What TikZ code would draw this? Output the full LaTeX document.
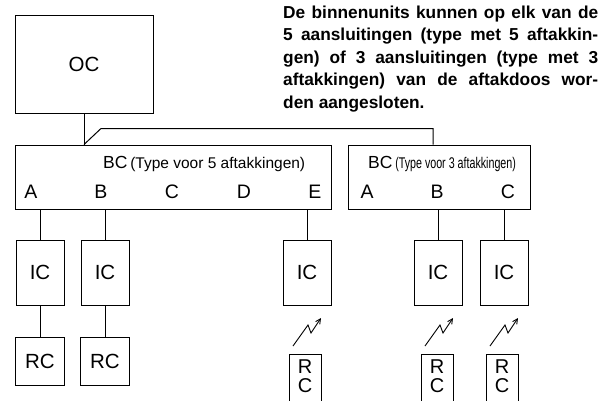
\documentclass[tikz,border=0pt]{standalone}
\usepackage{fontspec}
\setmainfont{Liberation Sans}
\usetikzlibrary{arrows.meta, positioning}

\tikzset{
    % Box styles - plain black frames
    unitbox/.style={
        rectangle,
        draw=black,
        line width=1pt,
        inner sep=0pt,
        align=center,
        font=\fontsize{20.5}{20.5}\selectfont
    },
    ocbox/.style={unitbox, minimum width=138pt, minimum height=98pt},
    bcbox/.style={unitbox, minimum width=316pt, minimum height=64pt},
    bcsmall/.style={unitbox, minimum width=182pt, minimum height=64pt},
    icbox/.style={unitbox, minimum width=48pt, minimum height=65pt},
    rcbox/.style={unitbox, minimum width=49pt, minimum height=48pt},
    rcslim/.style={
        unitbox,
        anchor=north,
        minimum width=32pt,
        inner ysep=5pt,
        text depth=30pt,
        font=\fontsize{20}{19}\selectfont
    },
    % Text styles
    port/.style={anchor=base, inner sep=0pt, font=\fontsize{19.5}{19.5}\selectfont},
    bctitle/.style={anchor=base west, inner sep=0pt},
    note/.style={
        anchor=north west,
        inner sep=0pt,
        text width=315pt,
        align=justify,
        font=\fontsize{17.3}{22.5}\selectfont\bfseries
    },
    % Line styles
    link/.style={line width=1pt, draw=black},
    wireless/.style={
        -{Straight Barb[length=5pt,width=5pt]},
        line width=0.9pt,
        draw=black
    }
}

\begin{document}
\begin{tikzpicture}[x=1pt, y=-1pt]
    \useasboundingbox (0,0) rectangle (616,400);

    \node[note] (note) at (283,5.5) {De binnenunits kunnen op elk van de\linebreak
        5 aansluitingen (type met 5 aftakkin-\linebreak
        gen) of 3 aansluitingen (type met 3\linebreak
        aftakkingen) van de aftakdoos wor-\linebreak
        den aangesloten.};

    \node[ocbox] (oc) at (84,64) {OC};

    \node[bcbox] (bc1) at (173,177) {};
    \node[bcsmall] (bc2) at (439,177) {};

    \node[bctitle] (bc1lbl) at (103,168) {{\fontsize{17.5}{17.5}\selectfont BC}
        {\fontsize{15.5}{15.5}\selectfont (Type voor 5 aftakkingen)}};
    \node[bctitle] (bc2lbl) at (368,168) {{\fontsize{17.5}{17.5}\selectfont BC}
        \scalebox{0.69}[1]{\fontsize{15.5}{15.5}\selectfont (Type voor 3 aftakkingen)}};

    \foreach \l/\x in {A/31, B/101, C/172, D/244, E/315}
        \node[port] (bc1\l) at (\x,198) {\l};
    \foreach \l/\x in {A/367, B/437, C/508}
        \node[port] (bc2\l) at (\x,198) {\l};

    \node[icbox] (ic1) at (40,272.5) {IC};
    \node[icbox] (ic2) at (105,272.5) {IC};
    \node[icbox] (ic3) at (307,272.5) {IC};
    \node[icbox] (ic4) at (438,272.5) {IC};
    \node[icbox] (ic5) at (504,272.5) {IC};

    \node[rcbox] (rc1) at (40,361) {RC};
    \node[rcbox] (rc2) at (105,361) {RC};
    \node[rcslim] (rc3) at (305,354) {R\\C};
    \node[rcslim] (rc4) at (437,354) {R\\C};
    \node[rcslim] (rc5) at (502,354) {R\\C};

    % outdoor unit to branch boxes
    \draw[link] (oc.south) -- (oc.south |- bc1.north);
    \draw[link] (oc.south |- bc1.north) -- ++(17,-16) -| ([xshift=-6pt]bc2.north);

    % branch boxes to indoor units
    \foreach \i in {1,2,3}
        \draw[link] (ic\i.north) -- (ic\i.north |- bc1.south);
    \foreach \i in {4,5}
        \draw[link] (ic\i.north) -- (ic\i.north |- bc2.south);

    % wired remotes
    \draw[link] (ic1) -- (rc1);
    \draw[link] (ic2) -- (rc2);

    % wireless remotes
    \foreach \i in {3,4,5}
        \draw[wireless] ([xshift=-12pt,yshift=8pt]rc\i.north) -- ++(15,-21) -- ++(3,8) -- ++(10,-15);
\end{tikzpicture}
\end{document}
